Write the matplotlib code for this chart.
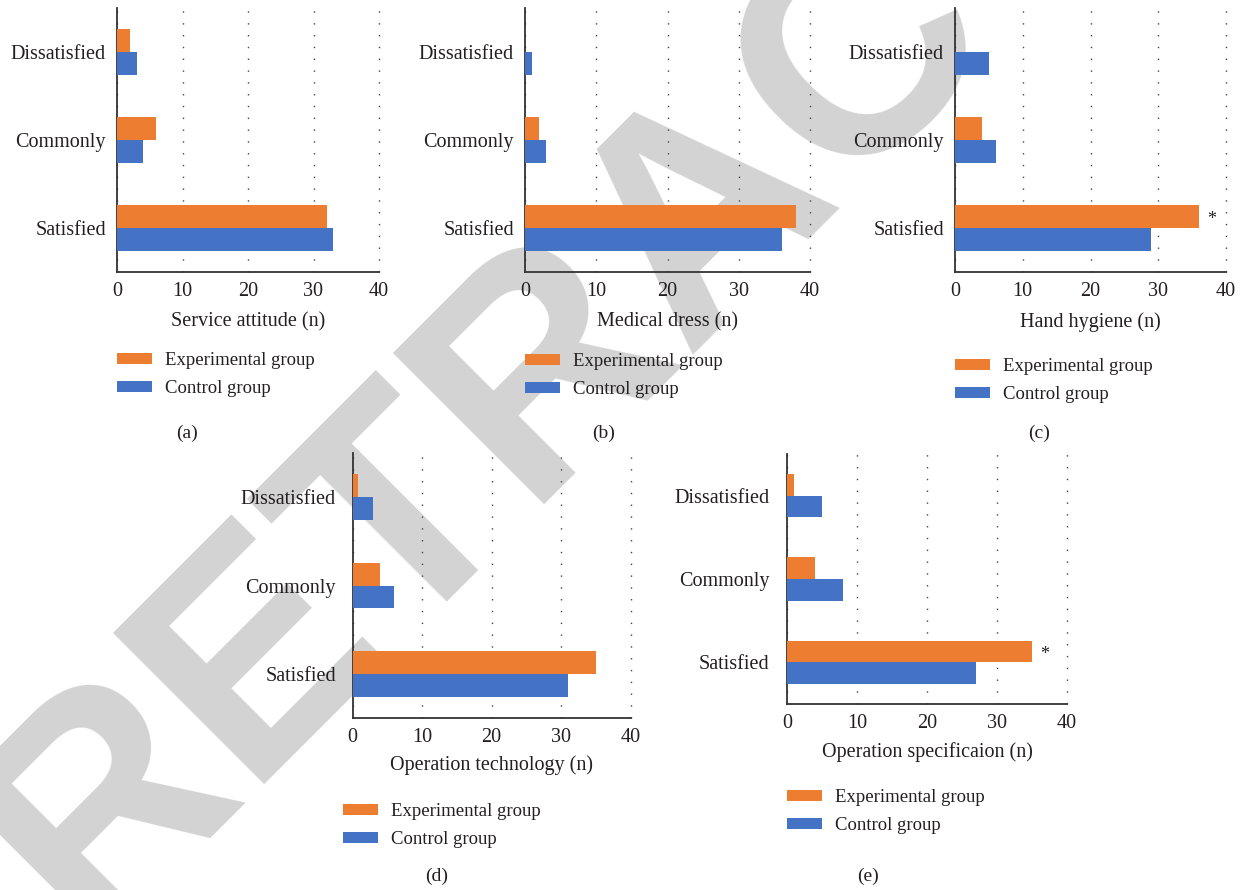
import matplotlib
matplotlib.use("Agg")
import matplotlib.pyplot as plt
import numpy as np

# Satisfaction survey counts per item (order: Satisfied, Commonly, Dissatisfied)
categories = ["Satisfied", "Commonly", "Dissatisfied"]

service_exp = [32, 6, 2]
service_ctrl = [33, 4, 3]

dress_exp = [38, 2, 0]
dress_ctrl = [36, 3, 1]

hygiene_exp = [36, 4, 0]
hygiene_ctrl = [29, 6, 5]

technology_exp = [35, 4, 0.8]
technology_ctrl = [31, 6, 3]

specification_exp = [35, 4, 1]
specification_ctrl = [27, 8, 5]

xlabels = ["Service attitude (n)", "Medical dress (n)", "Hand hygiene (n)",
           "Operation technology (n)", "Operation specificaion (n)"]
panel_tags = ["(a)", "(b)", "(c)", "(d)", "(e)"]
legend_labels = ["Experimental group", "Control group"]
significant = [False, False, True, False, True]

ORANGE = "#ED7D31"
BLUE = "#4472C4"
TEXT = "#231f20"
SERIF = "Liberation Serif"

W, H = 1245, 890
fig = plt.figure(figsize=(W / 100, H / 100), dpi=100)
plt.rcParams["font.family"] = SERIF


def px_axes(left, right, top, bottom):
    return [left / W, 1 - bottom / H, (right - left) / W, (bottom - top) / H]


# axes boxes in pixel units: left, right(x=40), top, bottom
boxes = [
    (117, 379, 8, 272),
    (525, 810, 8, 272),
    (955, 1226, 8, 272),
    (352.5, 630.5, 453, 718),
    (787, 1067, 454, 704),
]
ylabel_pad = [8, 8, 8, 12, 12.5]
# legend anchor (patch left, top of first row) and panel tag positions
legend_pos = [(117, 352), (525, 353), (955, 358), (343, 803), (787, 789)]
tag_pos = [(187, 433), (604, 433), (1039, 433), (437, 876), (868, 876)]
xlabel_y = [322, 322, 322, 765, 752]

exp_sets = [service_exp, dress_exp, hygiene_exp, technology_exp, specification_exp]
ctrl_sets = [service_ctrl, dress_ctrl, hygiene_ctrl, technology_ctrl, specification_ctrl]

# Watermark behind all panels
fig.text(762 / W, 1 - 266 / H, "RETRACTED", fontsize=223, fontweight="bold",
         family="Liberation Sans", color="#d3d3d3", rotation=45,
         rotation_mode="anchor", ha="center", va="baseline", zorder=-5)

bar_h = 0.26
ypos = np.arange(len(categories))

for i in range(5):
    ax = fig.add_axes(px_axes(*boxes[i]))
    ax.set_facecolor("none")
    b1 = ax.barh(ypos + bar_h / 2, exp_sets[i], height=bar_h, color=ORANGE, zorder=3)
    b2 = ax.barh(ypos - bar_h / 2, ctrl_sets[i], height=bar_h, color=BLUE, zorder=3)
    ax.set_xlim(0, 40)
    ax.set_ylim(-0.5, 2.5)
    ax.set_xticks([0, 10, 20, 30, 40])
    ax.set_yticks(ypos)
    ax.set_yticklabels(categories)
    ax.tick_params(axis="both", length=0, labelsize=14.5, colors=TEXT)
    ax.tick_params(axis="x", pad=7)
    ax.tick_params(axis="y", pad=ylabel_pad[i])
    for s in ("top", "right"):
        ax.spines[s].set_visible(False)
    for s in ("left", "bottom"):
        ax.spines[s].set_color("#333333")
        ax.spines[s].set_linewidth(1.3)
    ax.xaxis.grid(True, color="#444444", linestyle=(0, (1, 7.5)), linewidth=1.0, zorder=0)
    for gl in ax.get_xgridlines():
        gl.set_clip_on(False)
    ax.set_axisbelow(True)

    if significant[i]:
        ax.annotate("*", xy=(exp_sets[i][0], bar_h / 2), xytext=(6, -2),
                    textcoords="offset points", ha="left", va="center",
                    fontsize=13, color=TEXT)

    left, right, top, bottom = boxes[i]
    fig.text(((left + right) / 2) / W, 1 - xlabel_y[i] / H, xlabels[i],
             ha="center", va="center", fontsize=14.5, color=TEXT)

    lx, ly = legend_pos[i]
    leg = ax.legend([b1, b2], legend_labels, loc="upper left",
                    bbox_to_anchor=(lx / W, 1 - ly / H), bbox_transform=fig.transFigure,
                    frameon=False, fontsize=13.5, borderpad=0, borderaxespad=0,
                    handlelength=1.85, handleheight=0.5, handletextpad=0.7,
                    labelspacing=0.6)
    for t in leg.get_texts():
        t.set_color(TEXT)

    tx, ty = tag_pos[i]
    fig.text(tx / W, 1 - ty / H, panel_tags[i], ha="center", va="center",
             fontsize=14, color=TEXT)

fig.savefig("out.png", dpi=100)
